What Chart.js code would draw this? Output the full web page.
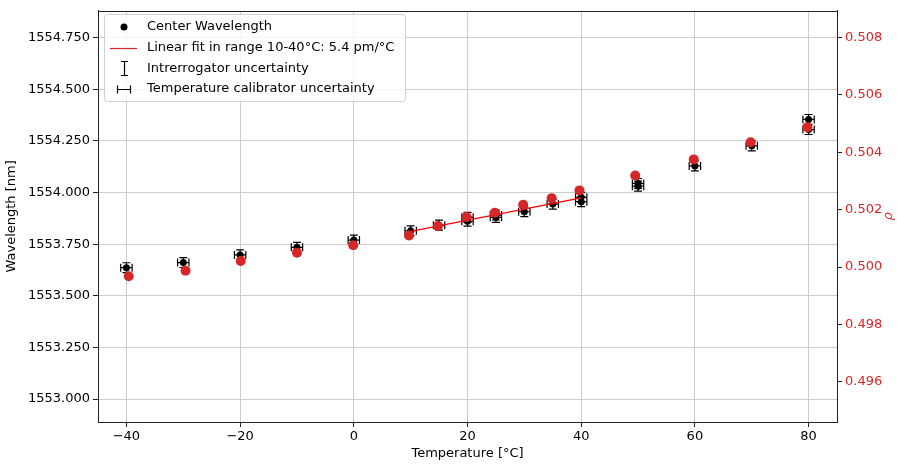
<!DOCTYPE html>
<html>
<head>
<meta charset="utf-8">
<script src="https://cdn.jsdelivr.net/npm/chart.js@4.4.1/dist/chart.umd.min.js"></script>
<style>
  html, body { margin: 0; padding: 0; background: #fff; }
  canvas { display: block; }
</style>
</head>
<body>
<canvas id="chart" width="897" height="465"></canvas>
<script>
// measured points (black) - some temperatures were measured twice
const tempWl = [-40, -30, -20, -10, 0, 10, 15, 20, 20, 25, 25, 30, 35, 40, 40, 50, 50, 60, 70, 80, 80];
const wavelength = [1553.636, 1553.661, 1553.698, 1553.735, 1553.770, 1553.815, 1553.842,
  1553.880, 1553.861, 1553.891, 1553.880, 1553.907, 1553.944, 1553.977, 1553.956,
  1554.044, 1554.031, 1554.129, 1554.226, 1554.354, 1554.305];

// rho on the right axis (red)
const tempRho = [-39.6, -29.6, -19.9, -10, -0.1, 9.7, 14.8, 19.8, 24.8, 29.8, 34.8, 39.7, 49.5, 59.8, 69.8, 79.8];
const rho = [0.49968, 0.49987, 0.50021, 0.50050, 0.50076, 0.50110, 0.50143, 0.50174,
  0.50189, 0.50217, 0.50240, 0.50267, 0.50319, 0.50375, 0.50435, 0.50487];

// linear fit 10-40 °C
const fitT = [10, 40];
const fitWl = [1553.812, 1553.974];

const wlErr = 0.024;  // nm, interrogator
const tempErr = 1.0;  // °C, calibrator

const xTicks = [-40, -20, 0, 20, 40, 60, 80];
const wlTicks = [1553.0, 1553.25, 1553.5, 1553.75, 1554.0, 1554.25, 1554.5, 1554.75];
const rhoTicks = [0.496, 0.498, 0.500, 0.502, 0.504, 0.506, 0.508];

const legendLabels = [
  "Center Wavelength",
  "Linear fit in range 10-40°C: 5.4 pm/°C",
  "Intrerrogator uncertainty",
  "Temperature calibrator uncertainty"
];

const FONT = "DejaVu Sans";
const RED = "#d62728";
Chart.defaults.font.family = FONT;
Chart.defaults.font.size = 13;
Chart.defaults.color = "#000";

function setTicks(list) {
  return function (scale) {
    scale.ticks = list.map(v => ({ value: v }));
  };
}

const errorBars = {
  id: "errorBars",
  beforeDatasetsDraw(chart) {
    const { ctx } = chart;
    const x = chart.scales.x, y = chart.scales.y;
    const cap = 4;
    ctx.save();
    ctx.strokeStyle = "#000";
    ctx.lineWidth = 1.2;
    ctx.beginPath();
    tempWl.forEach((t, i) => {
      const px = x.getPixelForValue(t);
      const py = y.getPixelForValue(wavelength[i]);
      const yTop = y.getPixelForValue(wavelength[i] + wlErr);
      const yBot = y.getPixelForValue(wavelength[i] - wlErr);
      const xL = x.getPixelForValue(t - tempErr);
      const xR = x.getPixelForValue(t + tempErr);
      // vertical
      ctx.moveTo(px, yTop); ctx.lineTo(px, yBot);
      ctx.moveTo(px - cap, yTop); ctx.lineTo(px + cap, yTop);
      ctx.moveTo(px - cap, yBot); ctx.lineTo(px + cap, yBot);
      // horizontal
      ctx.moveTo(xL, py); ctx.lineTo(xR, py);
      ctx.moveTo(xL, py - cap); ctx.lineTo(xL, py + cap);
      ctx.moveTo(xR, py - cap); ctx.lineTo(xR, py + cap);
    });
    ctx.stroke();
    ctx.restore();
  }
};

const frameAndLegend = {
  id: "frameAndLegend",
  afterDraw(chart) {
    const { ctx, chartArea: a } = chart;
    ctx.save();
    ctx.strokeStyle = "#222";
    ctx.lineWidth = 1;
    ctx.beginPath();
    ctx.moveTo(Math.round(a.left), Math.round(a.top) + 0.5);
    ctx.lineTo(Math.round(a.right), Math.round(a.top) + 0.5);
    ctx.stroke();

    // right axis label (rho), reads bottom to top
    ctx.save();
    ctx.translate(889, (a.top + a.bottom) / 2);
    ctx.rotate(-Math.PI / 2);
    ctx.fillStyle = RED;
    ctx.font = "italic 13px " + FONT;
    ctx.textAlign = "center";
    ctx.textBaseline = "middle";
    ctx.fillText("ρ", 0, 0);
    ctx.restore();

    // legend box
    const bx = 104.5, by = 14.5, bw = 301, bh = 87, r = 3;
    ctx.beginPath();
    ctx.roundRect(bx, by, bw, bh, r);
    ctx.fillStyle = "rgba(255,255,255,0.8)";
    ctx.fill();
    ctx.strokeStyle = "#d0d0d0";
    ctx.stroke();

    const hx = 124, tx = 147;
    const rows = [27, 48, 68.5, 89];
    ctx.fillStyle = "#000";
    ctx.font = "13px " + FONT;
    ctx.textBaseline = "middle";
    ctx.textAlign = "left";
    legendLabels.forEach((lbl, i) => ctx.fillText(lbl, tx, rows[i]));

    // handles
    ctx.beginPath();
    ctx.arc(hx, rows[0], 3.5, 0, Math.PI * 2);
    ctx.fill();

    ctx.strokeStyle = RED;
    ctx.lineWidth = 1.2;
    ctx.beginPath();
    ctx.moveTo(110, rows[1] + 0.5); ctx.lineTo(137, rows[1] + 0.5);
    ctx.stroke();

    ctx.strokeStyle = "#000";
    ctx.lineWidth = 1.2;
    ctx.beginPath();
    ctx.moveTo(hx + 0.5, rows[2] - 7); ctx.lineTo(hx + 0.5, rows[2] + 7);
    ctx.moveTo(hx - 3, rows[2] - 7); ctx.lineTo(hx + 4, rows[2] - 7);
    ctx.moveTo(hx - 3, rows[2] + 7); ctx.lineTo(hx + 4, rows[2] + 7);
    ctx.moveTo(117, rows[3] + 0.5); ctx.lineTo(131, rows[3] + 0.5);
    ctx.moveTo(117.5, rows[3] - 3.5); ctx.lineTo(117.5, rows[3] + 4.5);
    ctx.moveTo(130.5, rows[3] - 3.5); ctx.lineTo(130.5, rows[3] + 4.5);
    ctx.stroke();
    ctx.restore();
  }
};

const minus = v => (v < 0 ? "\u2212" + Math.abs(v) : String(v));

new Chart(document.getElementById("chart"), {
  data: {
    datasets: [
      {
        type: "scatter",
        label: "rho",
        data: tempRho.map((t, i) => ({ x: t, y: rho[i] })),
        yAxisID: "y1",
        backgroundColor: RED,
        borderColor: RED,
        pointRadius: 5,
        borderWidth: 0,
        order: 0
      },
      {
        type: "line",
        label: legendLabels[1],
        data: fitT.map((t, i) => ({ x: t, y: fitWl[i] })),
        yAxisID: "y",
        borderColor: "#ff0000",
        borderWidth: 1.2,
        pointRadius: 0,
        order: 1
      },
      {
        type: "scatter",
        label: legendLabels[0],
        data: tempWl.map((t, i) => ({ x: t, y: wavelength[i] })),
        yAxisID: "y",
        backgroundColor: "#000",
        borderColor: "#000",
        pointRadius: 3.5,
        borderWidth: 0,
        order: 2
      }
    ]
  },
  options: {
    responsive: false,
    animation: false,
    devicePixelRatio: 1,
    layout: { padding: { top: 10, left: 0, right: 0, bottom: 0 } },
    plugins: { legend: { display: false }, tooltip: { enabled: false } },
    scales: {
      x: {
        type: "linear",
        min: -45, max: 85,
        afterBuildTicks: setTicks(xTicks),
        afterFit(s) { s.height = 43; },
        grid: { color: "#cccccc", tickLength: 5, tickColor: "#222" },
        border: { color: "#222" },
        ticks: { padding: 2, callback: minus, maxRotation: 0 },
        title: { display: true, text: "Temperature [°C]", padding: { top: 0, bottom: 4 } }
      },
      y: {
        type: "linear",
        position: "left",
        min: 1552.889, max: 1554.880,
        afterBuildTicks: setTicks(wlTicks),
        afterFit(s) { s.width = 98; },
        grid: { color: "#cccccc", tickLength: 5, tickColor: "#222" },
        border: { color: "#222" },
        ticks: { padding: 3, callback: v => v.toFixed(3) },
        title: { display: true, text: "Wavelength [nm]", padding: { top: 4, bottom: 0 } }
      },
      y1: {
        type: "linear",
        position: "right",
        min: 0.494598, max: 0.508929,
        afterBuildTicks: setTicks(rhoTicks),
        afterFit(s) { s.width = 60; },
        grid: { drawOnChartArea: false, tickLength: 5, tickColor: "#222" },
        border: { color: "#222" },
        ticks: { padding: 3, color: RED, callback: v => v.toFixed(3) }
      }
    }
  },
  plugins: [errorBars, frameAndLegend]
});
</script>
</body>
</html>
